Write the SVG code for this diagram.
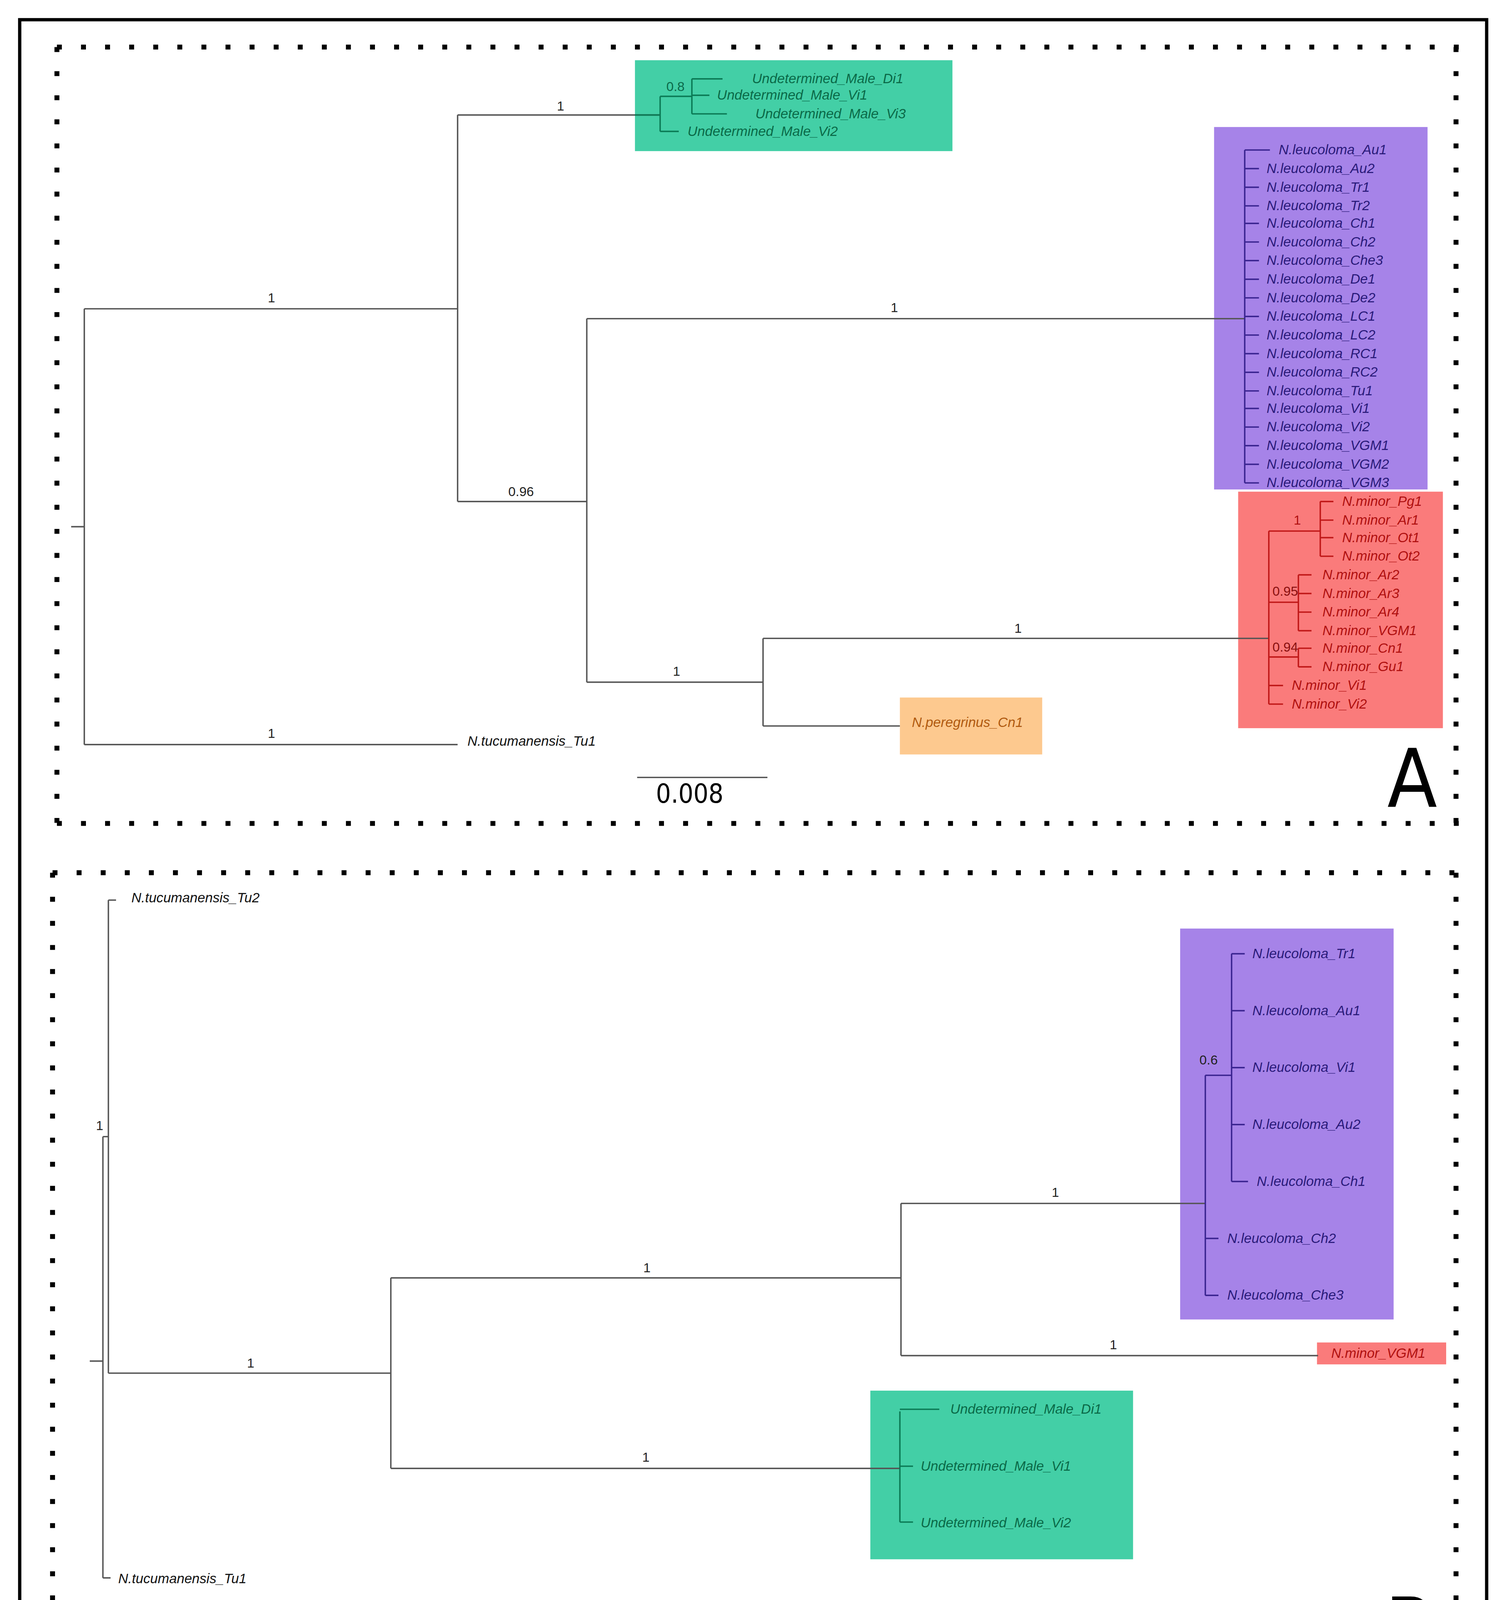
<svg xmlns="http://www.w3.org/2000/svg" width="3846" height="4397" viewBox="0 0 3846 4397">
<style>
.br{stroke:#555;stroke-width:1.3;fill:none}
.tg{stroke:#0b7a55;stroke-width:1.3;fill:none}
.tp{stroke:#3a2490;stroke-width:1.3;fill:none}
.tr{stroke:#c01818;stroke-width:1.3;fill:none}
.t{font-family:"Liberation Sans",Arial,sans-serif;font-size:12.5px;font-style:italic}
.s{font-family:"Liberation Sans",Arial,sans-serif;font-size:12px;fill:#222}
.dot{stroke:#000;stroke-width:4.5;stroke-dasharray:4.5 17.5;fill:none}
.big{font-family:"DejaVu Sans Condensed","DejaVu Sans",sans-serif;fill:#000}
</style>
<rect width="3846" height="4397" fill="#fff"/>
<g transform="scale(2.8032)">
<rect x="18" y="18" width="1340" height="1537" fill="none" stroke="#000" stroke-width="3"/>
<g id="frames">
<path class="dot" d="M52 43H1340M52 43V752M52 752H1336M1330 43V752"/>
<path class="dot" d="M48 797H1340M48 797V1506M48 1505H1336M1330 797V1506"/>
</g>
<g id="boxes">
<rect x="580" y="55" width="290" height="83" fill="#43cfa6"/>
<rect x="1109" y="116" width="195" height="331" fill="#a683e8"/>
<rect x="1131" y="449" width="187" height="216" fill="#fa7b7b"/>
<rect x="822" y="637" width="130" height="52" fill="#fdc98f"/>
<rect x="1078" y="848" width="195" height="357" fill="#a683e8"/>
<rect x="1203" y="1226" width="118" height="20" fill="#fa7b7b"/>
<rect x="795" y="1270" width="240" height="154" fill="#43cfa6"/>
</g>
<g id="connectors">
<path class="br" d="M65 481H77M77 282V680M77 282H418M418 105V458M418 105H603M418 458H536M536 291V623M536 291H1137M536 623H697M697 583V663M697 583H1159M697 663H822M77 680H418"/>
<path class="tg" d="M580 105H603M603 88V120M603 120H620M603 88H632M632 72V104M632 72H660M632 87H648M632 104H664"/>
<path class="tp" d="M1137 137V441M1137 137H1160"/>
<path class="tp" d="M1137 154H1150M1137 171H1150M1137 188H1150M1137 204H1150M1137 221H1150M1137 238H1150M1137 255H1150M1137 272H1150M1137 289H1150M1137 306H1150M1137 323H1150M1137 340H1150M1137 357H1150M1137 373H1150M1137 390H1150M1137 407H1150M1137 424H1150M1137 441H1150"/>
<path class="tr" d="M1159 485V643M1159 485H1206M1206 458V508M1206 458H1218M1206 475H1218M1206 491H1218M1206 508H1218M1159 550H1186M1186 525V576M1186 525H1198M1186 542H1198M1186 559H1198M1186 576H1198M1159 600H1186M1186 592V609M1186 592H1198M1186 609H1198M1159 626H1172M1159 643H1172"/>
<path class="br" d="M582 710H701"/>
<path class="br" d="M82 1243H94M94 1038V1441M94 1441H101M94 1038H99M99 822V1254M99 822H106M99 1254H357M357 1167V1341M357 1167H823M823 1099V1238M823 1099H1101M823 1238H1204M357 1341H822"/>
<path class="tp" d="M1101 982V1183M1101 982H1125M1125 871V1079M1125 871H1137M1125 923H1137M1125 975H1137M1125 1027H1137M1125 1079H1140M1101 1131H1113M1101 1183H1113"/>
<path class="tg" d="M822 1289V1390M822 1287H858M822 1339H834M822 1390H834"/>
<path class="br" d="M584 1476H705"/>
</g>
<g id="labels-support">
<text class="s" x="248" y="276" text-anchor="middle">1</text>
<text class="s" x="512" y="101" text-anchor="middle">1</text>
<text class="s" x="476" y="453" text-anchor="middle">0.96</text>
<text class="s" x="817" y="285" text-anchor="middle">1</text>
<text class="s" x="618" y="617" text-anchor="middle">1</text>
<text class="s" x="930" y="578" text-anchor="middle">1</text>
<text class="s" x="248" y="674" text-anchor="middle">1</text>
<text class="s" x="617" y="83" text-anchor="middle" fill="#0b6a4a" style="fill:#0b6a4a">0.8</text>
<text class="s" x="1185" y="479" text-anchor="middle" style="fill:#b01010">1</text>
<text class="s" x="1174" y="544" text-anchor="middle" style="fill:#8a1010">0.95</text>
<text class="s" x="1174" y="595" text-anchor="middle" style="fill:#8a1010">0.94</text>
<text class="s" x="91" y="1032" text-anchor="middle">1</text>
<text class="s" x="229" y="1249" text-anchor="middle">1</text>
<text class="s" x="591" y="1162" text-anchor="middle">1</text>
<text class="s" x="964" y="1093" text-anchor="middle">1</text>
<text class="s" x="1104" y="972" text-anchor="middle">0.6</text>
<text class="s" x="1017" y="1232" text-anchor="middle">1</text>
<text class="s" x="590" y="1335" text-anchor="middle">1</text>
</g>
<g id="tipsA-green" class="t" fill="#0a6a48">
<text x="687" y="76">Undetermined_Male_Di1</text>
<text x="655" y="91">Undetermined_Male_Vi1</text>
<text x="690" y="108">Undetermined_Male_Vi3</text>
<text x="628" y="124">Undetermined_Male_Vi2</text>
</g>
<g id="tipsA-purple" class="t" fill="#2a1a7a">
<text x="1168" y="141">N.leucoloma_Au1</text>
<text x="1157" y="158">N.leucoloma_Au2</text>
<text x="1157" y="175">N.leucoloma_Tr1</text>
<text x="1157" y="192">N.leucoloma_Tr2</text>
<text x="1157" y="208">N.leucoloma_Ch1</text>
<text x="1157" y="225">N.leucoloma_Ch2</text>
<text x="1157" y="242">N.leucoloma_Che3</text>
<text x="1157" y="259">N.leucoloma_De1</text>
<text x="1157" y="276">N.leucoloma_De2</text>
<text x="1157" y="293">N.leucoloma_LC1</text>
<text x="1157" y="310">N.leucoloma_LC2</text>
<text x="1157" y="327">N.leucoloma_RC1</text>
<text x="1157" y="344">N.leucoloma_RC2</text>
<text x="1157" y="361">N.leucoloma_Tu1</text>
<text x="1157" y="377">N.leucoloma_Vi1</text>
<text x="1157" y="394">N.leucoloma_Vi2</text>
<text x="1157" y="411">N.leucoloma_VGM1</text>
<text x="1157" y="428">N.leucoloma_VGM2</text>
<text x="1157" y="445">N.leucoloma_VGM3</text>
</g>
<g id="tipsA-red" class="t" fill="#b01010">
<text x="1226" y="462">N.minor_Pg1</text>
<text x="1226" y="479">N.minor_Ar1</text>
<text x="1226" y="495">N.minor_Ot1</text>
<text x="1226" y="512">N.minor_Ot2</text>
<text x="1208" y="529">N.minor_Ar2</text>
<text x="1208" y="546">N.minor_Ar3</text>
<text x="1208" y="563">N.minor_Ar4</text>
<text x="1208" y="580">N.minor_VGM1</text>
<text x="1208" y="596">N.minor_Cn1</text>
<text x="1208" y="613">N.minor_Gu1</text>
<text x="1180" y="630">N.minor_Vi1</text>
<text x="1180" y="647">N.minor_Vi2</text>
</g>
<g id="tipsA-other" class="t">
<text x="833" y="664" fill="#b05a10">N.peregrinus_Cn1</text>
<text x="427" y="681" fill="#111">N.tucumanensis_Tu1</text>
</g>
<g id="tipsB" class="t">
<text x="120" y="824" fill="#111">N.tucumanensis_Tu2</text>
<text x="108" y="1446" fill="#111">N.tucumanensis_Tu1</text>
<text x="1144" y="875" fill="#2a1a7a">N.leucoloma_Tr1</text>
<text x="1144" y="927" fill="#2a1a7a">N.leucoloma_Au1</text>
<text x="1144" y="979" fill="#2a1a7a">N.leucoloma_Vi1</text>
<text x="1144" y="1031" fill="#2a1a7a">N.leucoloma_Au2</text>
<text x="1148" y="1083" fill="#2a1a7a">N.leucoloma_Ch1</text>
<text x="1121" y="1135" fill="#2a1a7a">N.leucoloma_Ch2</text>
<text x="1121" y="1187" fill="#2a1a7a">N.leucoloma_Che3</text>
<text x="1216" y="1240" fill="#b01010">N.minor_VGM1</text>
<text x="868" y="1291" fill="#0a6a48">Undetermined_Male_Di1</text>
<text x="841" y="1343" fill="#0a6a48">Undetermined_Male_Vi1</text>
<text x="841" y="1395" fill="#0a6a48">Undetermined_Male_Vi2</text>
</g>
<g id="scale">
<text class="big" x="630" y="733" font-size="24" text-anchor="middle">0.008</text>
<text class="big" x="632" y="1500" font-size="24" text-anchor="middle">0.008</text>
<text class="big" x="1290" y="737" font-size="74" text-anchor="middle">A</text>
<text class="big" x="1288" y="1512" font-size="74" text-anchor="middle">B</text>
</g>
</g>
</svg>
